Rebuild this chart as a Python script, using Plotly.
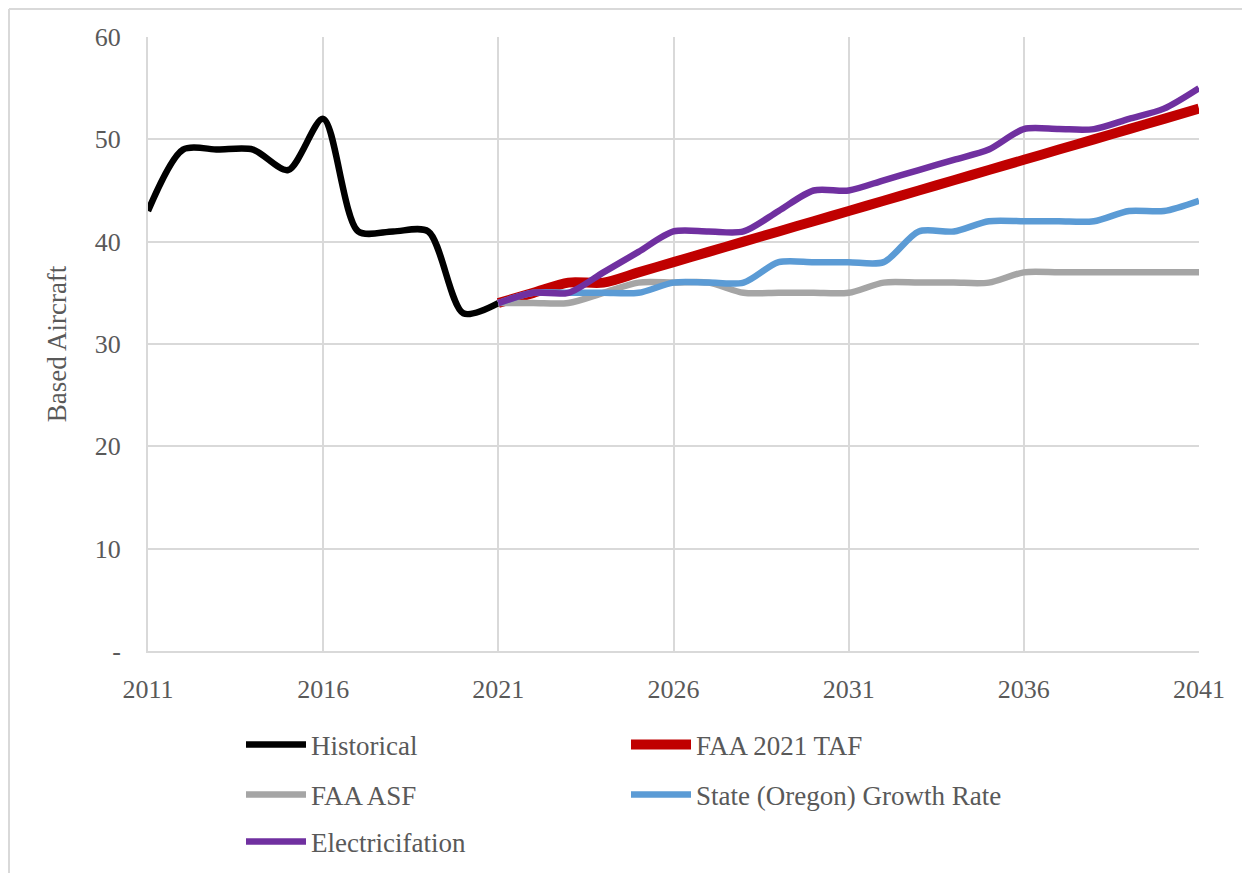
import plotly.graph_objects as go

# data
hist_years = list(range(2011, 2022))
historical = [43, 49, 49, 49, 47, 52, 41, 41, 41, 33, 34]

fc_years = list(range(2021, 2042))
faa_taf = [34, 35, 36, 36, 37, 38, 39, 40, 41, 42, 43, 44, 45, 46, 47, 48, 49, 50, 51, 52, 53]
faa_asf = [34, 34, 34, 35, 36, 36, 36, 35, 35, 35, 35, 36, 36, 36, 36, 37, 37, 37, 37, 37, 37]
state_growth = [34, 35, 35, 35, 35, 36, 36, 36, 38, 38, 38, 38, 41, 41, 42, 42, 42, 42, 43, 43, 44]
electrification = [34, 35, 35, 37, 39, 41, 41, 41, 43, 45, 45, 46, 47, 48, 49, 51, 51, 51, 52, 53, 55]

x_ticks = [2011, 2016, 2021, 2026, 2031, 2036, 2041]
y_ticks = [0, 10, 20, 30, 40, 50, 60]
y_ticktext = ['-', '10', '20', '30', '40', '50', '60']

FONT = 'Liberation Serif'
TXT = '#595959'
GRID = '#d9d9d9'

fig = go.Figure()

series = [
    ('Historical', hist_years, historical, '#000000', 6.5, 'legend'),
    ('FAA 2021 TAF', fc_years, faa_taf, '#c00000', 10, 'legend'),
    ('FAA ASF', fc_years, faa_asf, '#a5a5a5', 6.5, 'legend2'),
    ('State (Oregon) Growth Rate', fc_years, state_growth, '#5b9bd5', 6.5, 'legend2'),
    ('Electricifation', fc_years, electrification, '#7030a0', 6.5, 'legend3'),
]
for name, xs, ys, col, w, lg in series:
    fig.add_trace(go.Scatter(
        x=xs, y=ys, name=name, mode='lines',
        line=dict(color=col, width=w, shape='spline', smoothing=0.8),
        legend=lg,
    ))

# plot area in figure pixels (page is offset by the 8px body margin)
L, R, T, B = 140, 1191, 29, 643
W, H = R - L, B - T

leg_common = dict(
    orientation='h', x=(241 - 8 - L) / W, xanchor='left', yanchor='middle',
    entrywidth=310, entrywidthmode='pixels', itemwidth=60,
    font=dict(family=FONT, size=27, color=TXT),
    bgcolor='rgba(0,0,0,0)', tracegroupgap=0,
)

fig.update_layout(
    width=1250, height=873,
    margin=dict(l=L, r=1250 - R, t=T, b=873 - B),
    paper_bgcolor='white', plot_bgcolor='white',
    font=dict(family=FONT, color=TXT),
    xaxis=dict(
        range=[2011, 2041], tickvals=x_ticks,
        showgrid=True, gridcolor=GRID, gridwidth=2,
        showline=True, linecolor=GRID, linewidth=2,
        zeroline=False, ticks='outside', ticklen=14, tickcolor='rgba(0,0,0,0)',
        tickfont=dict(family=FONT, size=26, color=TXT),
    ),
    yaxis=dict(
        range=[0, 60], tickvals=y_ticks, ticktext=y_ticktext,
        showgrid=True, gridcolor=GRID, gridwidth=2,
        showline=True, linecolor=GRID, linewidth=2,
        zeroline=False, ticks='outside', ticklen=20, tickcolor='rgba(0,0,0,0)',
        tickfont=dict(family=FONT, size=26, color=TXT),
        title=dict(text='Based Aircraft', font=dict(family=FONT, size=27, color=TXT), standoff=20),
    ),
    legend=dict(leg_common, y=(B - (745 - 8)) / H),
    legend2=dict(leg_common, y=(B - (795 - 8)) / H),
    legend3=dict(leg_common, y=(B - (842 - 8)) / H),
    shapes=[
        dict(type='line', xref='paper', yref='paper', x0=(1 - L) / W, x1=1.1,
             y0=(B - 1) / H, y1=(B - 1) / H, line=dict(color=GRID, width=2)),
        dict(type='line', xref='paper', yref='paper', x0=(1 - L) / W, x1=(1 - L) / W,
             y0=-0.5, y1=(B - 1) / H, line=dict(color=GRID, width=2)),
    ],
)

fig.write_html('out.html')
